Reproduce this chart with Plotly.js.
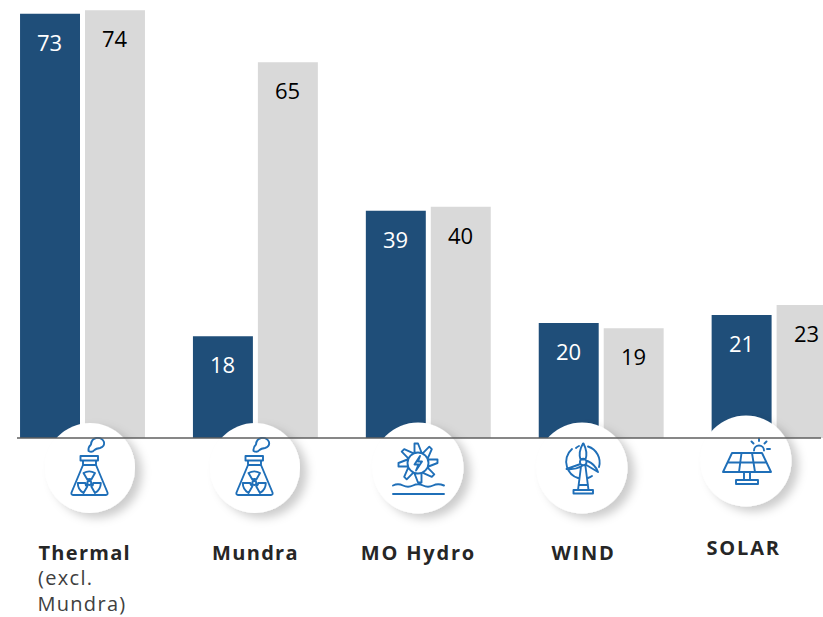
<!DOCTYPE html>
<html><head><meta charset="utf-8">
<script src="https://cdn.plot.ly/plotly-3.0.1.min.js"></script>
<style>html,body{margin:0;padding:0;background:#fff;overflow:hidden}#c{width:823px;height:617px}</style>
</head><body><div id="c"></div>
<script>
const categories = ['Thermal','Mundra','MO Hydro','WIND','SOLAR'];
const seriesBlue = [73.4,17.6,39.3,19.9,21.3];
const seriesGrey = [74,65,40,19,23];
const blueLabels = ['73','18','39','20','21'];
const greyLabels = ['74','65','40','19','23'];
const categoryLabelX = [41,214,366,553,709];
const categoryLabelY = [552,552,552,552,547];
const W = 823, H = 617;
const BLUE = '#1F4E79', GREY = '#D9D9D9', IC = '#1F6FB8';
const px = v => v / W, py = v => 1 - v / H;

function sector(cx, cy, r1, r2, a1, a2) {
  const p = (r, a) => (cx + r * Math.cos(a * Math.PI / 180)).toFixed(1) + ' ' + (cy + r * Math.sin(a * Math.PI / 180)).toFixed(1);
  return 'M' + p(r1, a1) + 'L' + p(r2, a1) + 'A' + r2 + ' ' + r2 + ' 0 0 1 ' + p(r2, a2) + 'L' + p(r1, a2) + 'A' + r1 + ' ' + r1 + ' 0 0 0 ' + p(r1, a1) + 'Z';
}
const flask = 'M80.5 456H98V460.5H80.5ZM83 460.5V465L71.5 492.5Q71 495 73 495H106Q108 495 107.5 492.5L96 465V460.5M83 465H96' +
  'M88.5 451Q88 447 91 444.5Q91.5 439 96 438Q102 437 104 442Q105 446.5 100 448Q96 448.5 94.5 450Q92 453 88.5 451Z' +
  sector(89.3,483,4,11.5,-120,-60) + sector(89.3,483,4,11.5,0,60) + sector(89.3,483,4,11.5,120,180) +
  'M91.3 483A2 2 0 1 1 87.3 483A2 2 0 1 1 91.3 483Z';
let blades = '';
for (let a = 0; a < 360; a += 45) {
  const t = a * Math.PI / 180, c = 418, d = 463;
  const q = (r, o) => (c + r * Math.cos(t) - o * Math.sin(t)).toFixed(1) + ' ' + (d + r * Math.sin(t) + o * Math.cos(t)).toFixed(1);
  blades += 'M' + q(10.5, -3.5) + 'L' + q(19.5, -3.5) + 'L' + q(19.5, 0) + 'L' + q(10.5, 3.5);
}
const hydro = 'M428.5 463A10.5 10.5 0 1 1 407.5 463A10.5 10.5 0 1 1 428.5 463Z' + blades +
  'M420 456L414.5 464.5H418.5L416 470.5L422 461.5H418Z' +
  'M393 485.5Q398 483 403 485.5T413 485.5T423 485.5T433 485.5T444 485.5M393 494H444';
const wind = 'M576 448A16.7 16.7 0 0 1 579 446M588 446.5A16.7 16.7 0 0 1 599 467M592 476A16.7 16.7 0 0 1 588 478M578 478A16.7 16.7 0 0 1 567 467A16.7 16.7 0 0 1 572 449' +
  'M583 443.5Q578 452 580.5 459.5H585.5Q588 452 583.5 443.5ZM580.5 464L566.5 469Q575 470 582 466M585.5 464.5L598 472Q595 464 587.5 461' +
  'M586.5 462A3.3 3.3 0 1 1 579.9 462A3.3 3.3 0 1 1 586.5 462Z' +
  'M581 466.5L578 490M585.5 466.5L588.5 490M579 485H588M573.5 490H593V493.5H573.5Z';
const solar = 'M732 453H762L771 472H723ZM727.5 462.5H766.5M741.5 453L739 472M752 453L755 472' +
  'M744 472V480M750 472V480M736 480H758V484H736Z' +
  'M754 450.5A5 5 0 0 1 764 450.5M759 438.5V441M751.5 441.5L753.5 443.5M766.5 441.5L764.5 443.5M767 449H770';

function icon(cx, cy, r, path, tr) {
  const s = 72;
  const svg = '<svg xmlns="http://www.w3.org/2000/svg" width="' + (2 * s) + '" height="' + (2 * s) + '" viewBox="' + (cx - s) + ' ' + (cy - s) + ' ' + (2 * s) + ' ' + (2 * s) + '">' +
    '<defs><filter id="f" x="-30%" y="-30%" width="160%" height="160%"><feDropShadow dx="7" dy="5" stdDeviation="5" flood-color="#000" flood-opacity="0.2"/></filter></defs>' +
    '<circle cx="' + cx + '" cy="' + cy + '" r="' + r + '" fill="#fff" filter="url(#f)"/>' +
    '<path d="' + path + '" transform="' + (tr || '') + '" fill="none" stroke="' + IC + '" stroke-width="1.9" stroke-linejoin="round" stroke-linecap="round"/></svg>';
  return { source: 'data:image/svg+xml;charset=utf-8,' + encodeURIComponent(svg), xref: 'paper', yref: 'paper',
    x: px(cx - s), y: py(cy - s), sizex: 2 * s / W, sizey: 2 * s / H, xanchor: 'left', yanchor: 'top', sizing: 'stretch', layer: 'above' };
}
const images = [
  icon(90, 468, 45, flask), icon(255, 468, 45, flask, 'translate(165 0)'),
  icon(418, 468, 45.5, hydro), icon(582, 468, 45.5, wind), icon(746, 461, 45.5, solar)
];

const traces = [
  { type: 'bar', x: categories, y: seriesBlue, marker: { color: BLUE }, hoverinfo: 'skip', cliponaxis: true },
  { type: 'bar', x: categories, y: seriesGrey, marker: { color: GREY }, hoverinfo: 'skip', cliponaxis: true }
];
const ann = [];
const F = '"Open Sans", sans-serif';
categories.forEach((c, i) => {
  ann.push({ x: c, y: seriesBlue[i], xref: 'x', yref: 'y', text: blueLabels[i], showarrow: false, xshift: -33, yshift: -28, yanchor: 'middle', xanchor: 'center', font: { family: F, size: 22, color: '#fff' } });
  ann.push({ x: c, y: seriesGrey[i], xref: 'x', yref: 'y', text: greyLabels[i], showarrow: false, xshift: 32, yshift: -28, yanchor: 'middle', xanchor: 'center', font: { family: F, size: 22, color: '#000' } });
  ann.push({ x: px(categoryLabelX[i]), y: py(categoryLabelY[i]), xref: 'paper', yref: 'paper', text: '<b>' + c + '</b>', showarrow: false, xanchor: 'left', yanchor: 'middle', font: { family: F, size: 20, color: '#262626' } });
});
ann.push({ x: px(40), y: py(577), xref: 'paper', yref: 'paper', text: '(excl.', showarrow: false, xanchor: 'left', yanchor: 'middle', font: { family: F, size: 20, color: '#404040' } });
ann.push({ x: px(40), y: py(603), xref: 'paper', yref: 'paper', text: 'Mundra)', showarrow: false, xanchor: 'left', yanchor: 'middle', font: { family: F, size: 20, color: '#404040' } });

const unit = 5.78, baseY = 438;
const layout = {
  width: W, height: H, margin: { l: 0, r: 0, t: 0, b: 0 }, paper_bgcolor: '#fff', plot_bgcolor: '#fff',
  barmode: 'group', bargap: 0.2486, bargroupgap: 0.077, showlegend: false,
  xaxis: { type: 'category', categoryorder: 'array', categoryarray: categories, range: [-82.5 / 172.9, (W - 82.5) / 172.9], visible: false, fixedrange: true },
  yaxis: { range: [-(H - baseY) / unit, baseY / unit], visible: false, fixedrange: true, zeroline: false },
  shapes: [{ type: 'line', xref: 'paper', yref: 'y', x0: px(17), x1: px(821), y0: 0, y1: 0, line: { color: '#5f5f5f', width: 1.5 } }],
  images: images, annotations: ann
};
Plotly.newPlot('c', traces, layout, { displayModeBar: false, staticPlot: true }).then(() => {
  document.querySelectorAll('.annotation-text').forEach(t => {
    const s = t.textContent;
    let sp = 1.3;
    if (s === 'MO Hydro') sp = 1.8;
    if (s === 'WIND' || s === 'SOLAR') sp = 1.8;
    if (!/^\d+$/.test(s)) t.style.letterSpacing = sp + 'px';
  });
});
</script></body></html>
